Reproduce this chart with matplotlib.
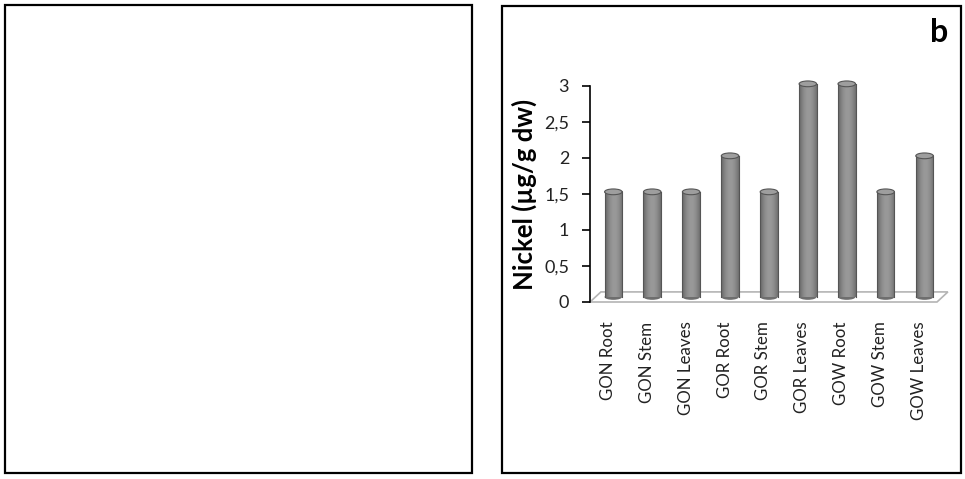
import numpy as np
import matplotlib.pyplot as plt
from matplotlib.patches import Rectangle, Ellipse, Polygon

samples = ["GON Root", "GON Stem", "GON Leaves", "GOR Root", "GOR Stem",
           "GOR Leaves", "GOW Root", "GOW Stem", "GOW Leaves"]
nickel = [1.5, 1.5, 1.5, 2.0, 1.5, 3.0, 3.0, 1.5, 2.0]
yticks = [0, 0.5, 1, 1.5, 2, 2.5, 3]
ytick_labels = ["0", "0,5", "1", "1,5", "2", "2,5", "3"]

plt.rcParams['font.family'] = ['Lato', 'DejaVu Sans']

fig = plt.figure(figsize=(9.65, 4.79), dpi=100)
W, H = 965, 479


def fig_box(x0, y0, x1, y1):
    # pixel coords from the top-left corner
    fig.add_artist(Rectangle((x0 / W, 1 - y1 / H), (x1 - x0) / W, (y1 - y0) / H,
                             transform=fig.transFigure, fill=False,
                             edgecolor='black', linewidth=1.6))


fig_box(5, 5, 472, 473)
fig_box(502, 6, 961, 473)
fig.text(948 / W, 1 - 33 / H, "b", fontsize=23, fontweight='bold',
         ha='right', va='center')

# axes placed where the reference plot area is
ax = fig.add_axes([590 / W, 1 - 302 / H, 347 / W, 216 / H])
ax.set_xlim(-0.46, len(samples) - 1 + 0.46)
ax.set_ylim(0, 3)

depth_x, depth_y = 0.28, 0.14
x0, x1 = ax.get_xlim()
floor = Polygon([(x0, 0), (x1, 0), (x1 + depth_x, depth_y), (x0 + depth_x, depth_y)],
                closed=True, facecolor='white', edgecolor='#b4b4b4',
                linewidth=1.2, clip_on=False, zorder=1)
ax.add_patch(floor)

bw = 0.45
eh = 0.08
grad = np.linspace(0, 1, 64)
shade = 0.36 + 0.24 * np.sin(np.pi * (grad * 0.85 + 0.05))
img = np.tile(shade, (2, 1))
for i, v in enumerate(nickel):
    cx = i + depth_x / 2
    base = depth_y / 2
    top = v + depth_y / 2 - eh / 2
    body = Rectangle((cx - bw / 2, base), bw, top - base, facecolor='none',
                     edgecolor='none', clip_on=False)
    ax.add_patch(body)
    im = ax.imshow(img, cmap='gray', vmin=0, vmax=1, aspect='auto',
                   extent=(cx - bw / 2, cx + bw / 2, base, top),
                   interpolation='bilinear', zorder=2, clip_on=False)
    im.set_clip_path(body)
    ax.add_patch(Ellipse((cx, base), bw, eh, facecolor='#6e6e6e',
                         edgecolor='none', zorder=1.9, clip_on=False))
    ax.plot([cx - bw / 2, cx - bw / 2], [base, top], color='#555555',
            lw=0.8, zorder=3, clip_on=False)
    ax.plot([cx + bw / 2, cx + bw / 2], [base, top], color='#555555',
            lw=0.8, zorder=3, clip_on=False)
    ax.add_patch(Ellipse((cx, top), bw, eh, facecolor='#9e9e9e',
                         edgecolor='#555555', linewidth=0.8, zorder=4,
                         clip_on=False))

ax.set_xticks(range(len(samples)))
ax.set_xticklabels(samples, rotation=90, fontsize=12.2, color='#222222')
ax.tick_params(axis='x', length=0, pad=14)
ax.set_yticks(yticks)
ax.set_yticklabels(ytick_labels, fontsize=13, color='#222222')
ax.tick_params(axis='y', length=6, width=1.2, pad=9, direction='out')
ax.set_ylabel("Nickel (µg/g dw)", fontsize=18.5, fontweight='bold', labelpad=5)

for s in ['top', 'right', 'bottom']:
    ax.spines[s].set_visible(False)
ax.spines['left'].set_linewidth(1.2)
ax.patch.set_visible(False)

fig.savefig("out.png", dpi=100)
